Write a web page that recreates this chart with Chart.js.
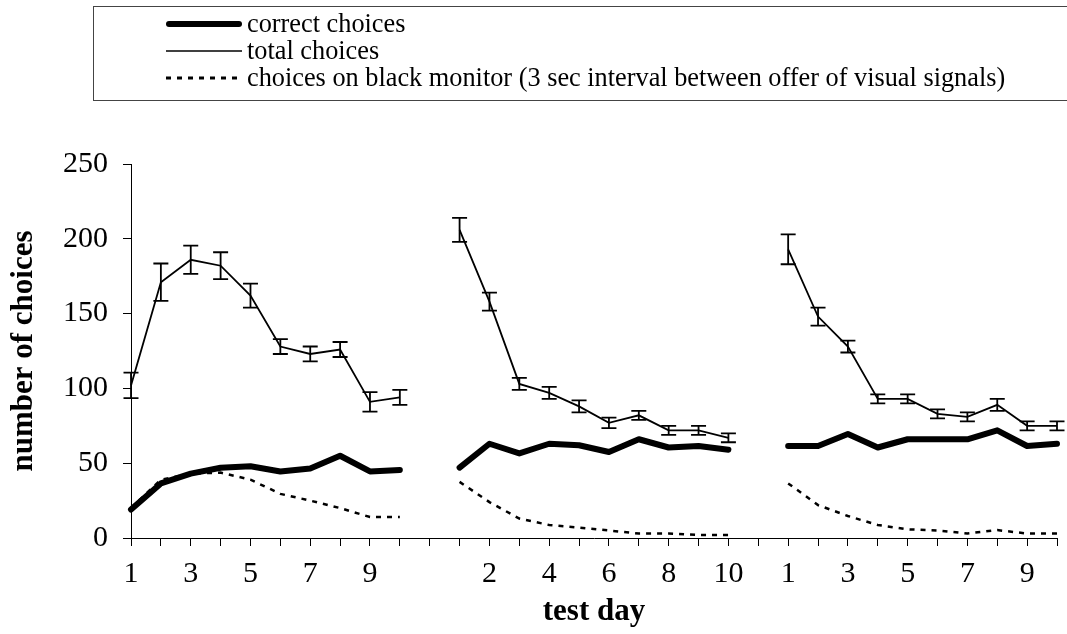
<!DOCTYPE html>
<html><head><meta charset="utf-8">
<script src="https://cdn.jsdelivr.net/npm/chart.js@4/dist/chart.umd.min.js"></script>
<style>
html,body{margin:0;padding:0;background:#fff;}
#wrap{position:relative;width:1067px;height:634px;overflow:hidden;}
#chart{position:absolute;left:0;top:0;}
#legend{position:absolute;left:93px;top:6px;width:990px;height:95px;border:1.5px solid #444;box-sizing:border-box;font-family:'Liberation Serif',serif;font-size:26.3px;color:#000;}
.row{position:absolute;left:72px;height:26px;display:flex;align-items:center;white-space:nowrap;}
.row svg{margin-right:5px;display:block;}
</style></head>
<body>
<div id="wrap">
<canvas id="chart" width="1067" height="634"></canvas>
<div id="legend">
  <div class="row" style="top:4px"><svg width="76" height="12"><line x1="3" y1="6" x2="73" y2="6" stroke="#000" stroke-width="6" stroke-linecap="round"/></svg><span>correct choices</span></div>
  <div class="row" style="top:31px"><svg width="76" height="12"><line x1="0" y1="6" x2="76" y2="6" stroke="#000" stroke-width="1.5"/></svg><span>total choices</span></div>
  <div class="row" style="top:58px"><svg width="76" height="12"><line x1="0" y1="6" x2="76" y2="6" stroke="#000" stroke-width="3" stroke-dasharray="5 6"/></svg><span>choices on black monitor (3 sec interval between offer of visual signals)</span></div>
</div>
</div>
<script>
// categories: three blocks of 10 test days separated by a blank category
const categories = ['1','2','3','4','5','6','7','8','9','10','',
                    '1','2','3','4','5','6','7','8','9','10','',
                    '1','2','3','4','5','6','7','8','9','10'];
const totalChoices = [102,171,186,182,162,128,123,126,91,94, null,
                      206,158,103,97,88,77,82,72,72,67, null,
                      193,148,128,93,93,83,81,89,75,75];
const totalErr = [8.5,12.5,9.5,9,8,5,5,5,6.5,5, null,
                  8,6,4,4,4,3.5,3,3,3,3, null,
                  10,6,4,3,3,3,3,4,3,3];
const correctChoices = [19,36.5,43,47,48,44.5,46.5,55,44.5,45.5, null,
                        47,63,56.5,63,62,57.5,66,60.5,61.5,59, null,
                        61.5,61.5,69.5,60.5,66,66,66,72,61.5,63];
const blackMonitor = [20,39,43,43.7,39,29.5,25,20,14,14, null,
                      37.5,24,13,8.7,7,5,3,3,2,2, null,
                      36.5,22,14.7,8.7,5.8,5,3,5.3,3,3];
const yTicks = [0,50,100,150,200,250];

const FONT = "'Liberation Serif', 'Times New Roman', serif";

const errorBars = {
  id: 'errorBars',
  afterDatasetsDraw(chart) {
    const ctx = chart.ctx, xs = chart.scales.x, ys = chart.scales.y;
    ctx.save();
    ctx.strokeStyle = '#000';
    ctx.lineWidth = 1.8;
    totalChoices.forEach((v, i) => {
      if (v == null) return;
      const e = totalErr[i];
      const px = xs.getPixelForValue(i);
      const t = ys.getPixelForValue(v + e), b = ys.getPixelForValue(v - e);
      ctx.beginPath();
      ctx.moveTo(px, t); ctx.lineTo(px, b);
      ctx.moveTo(px - 7.5, t); ctx.lineTo(px + 7.5, t);
      ctx.moveTo(px - 7.5, b); ctx.lineTo(px + 7.5, b);
      ctx.stroke();
    });
    ctx.restore();
  }
};

new Chart(document.getElementById('chart'), {
  type: 'line',
  data: {
    labels: categories,
    datasets: [
      { label: 'choices on black monitor', data: blackMonitor, borderColor: '#000', borderWidth: 2.5,
        borderDash: [5, 6], pointRadius: 0, tension: 0, spanGaps: false, clip: false },
      { label: 'total choices', data: totalChoices, borderColor: '#000', borderWidth: 1.8,
        pointRadius: 0, tension: 0, spanGaps: false, clip: false },
      { label: 'correct choices', data: correctChoices, borderColor: '#000', borderWidth: 6,
        borderJoinStyle: 'round', borderCapStyle: 'round', pointRadius: 0, tension: 0, spanGaps: false, clip: false }
    ]
  },
  options: {
    responsive: false,
    animation: false,
    layout: { padding: { top: 164, right: 6, left: 0, bottom: 0 } },
    plugins: { legend: { display: false }, tooltip: { enabled: false } },
    scales: {
      x: {
        type: 'category',
        offset: false,
        grid: { display: true, drawOnChartArea: false, drawTicks: true, tickLength: 8, color: '#000', lineWidth: 1 },
        border: { display: true, color: '#000', width: 1 },
        ticks: {
          autoSkip: false, maxRotation: 0, minRotation: 0, padding: 10, color: '#000',
          font: { family: FONT, size: 30 },
          callback: (v, i) => (i % 2 === 0 ? categories[i] : '')
        },
        title: { display: true, text: 'test day', color: '#000',
                 font: { family: FONT, size: 31, weight: 'bold' }, padding: { top: 0, bottom: 3 } },
        afterFit: s => { s.height = 96; }
      },
      y: {
        min: 0, max: 250,
        afterBuildTicks: s => { s.ticks = yTicks.map(v => ({ value: v })); },
        grid: { display: true, drawOnChartArea: false, drawTicks: true, tickLength: 8, color: '#000', lineWidth: 1 },
        border: { display: true, color: '#000', width: 1 },
        ticks: { padding: 15, color: '#000', font: { family: FONT, size: 30 } },
        title: { display: true, text: 'number of choices', color: '#000',
                 font: { family: FONT, size: 31, weight: 'bold' }, padding: { top: 5, bottom: 0 } },
        afterFit: s => { s.width = 131; }
      }
    }
  },
  plugins: [errorBars]
});
</script>
</body></html>
